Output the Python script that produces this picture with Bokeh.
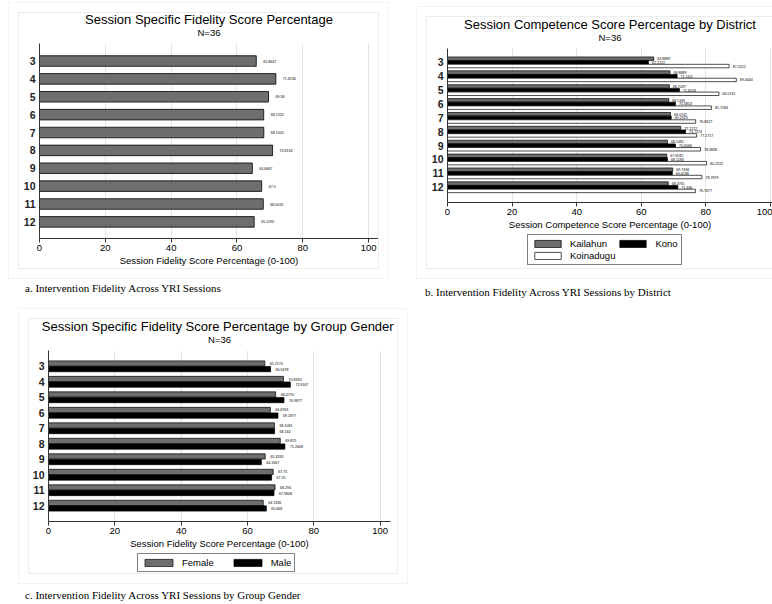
from bokeh.plotting import figure
from bokeh.models import (ColumnDataSource, Range1d, FixedTicker, Title, Legend,
                          LegendItem, Spacer, Div)
from bokeh.layouts import row, column
from bokeh.transform import dodge
from bokeh.core.properties import value
from bokeh.embed import file_html
from bokeh.resources import INLINE

# ---------------- data ----------------
sessions = [3, 4, 5, 6, 7, 8, 9, 10, 11, 12]
fidelity_all = [65.8647, 71.8136, 69.58, 68.1252, 68.1505, 70.8133, 64.6667, 67.5, 68.0016, 65.2292]

kailahun = [63.8889, 68.8889, 68.7037, 68.5185, 69.0741, 72.2222, 68.1481, 67.9032, 69.7436, 68.3761]
kono = [62.2222, 71.1111, 71.8243, 70.5853, 69.2929, 73.7374, 70.6066, 68.1183, 69.6238, 71.336]
koinadugu = [87.2222, 89.4444, 84.0741, 81.7284, 76.8627, 77.1717, 78.3838, 80.2222, 78.7879, 76.7677]

female = [65.2174, 70.8333, 68.4774, 66.8763, 68.1081, 69.875, 65.3333, 67.75, 68.294, 64.7436]
male = [66.9478, 72.9167, 70.9877, 69.1877, 68.164, 71.2608, 64.1667, 67.25, 67.9808, 65.668]

x_ticks = [0, 20, 40, 60, 80, 100]
grid_ticks = [20, 40, 60, 80, 100]
n_label = "N=36"
title_a = "Session Specific Fidelity Score Percentage"
title_b = "Session Competence Score Percentage by District"
title_c = "Session Specific Fidelity Score Percentage  by Group Gender"
xlabel_fid = "Session Fidelity Score Percentage (0-100)"
xlabel_comp = "Session Competence Score Percentage (0-100)"
cap_a = "a. Intervention Fidelity Across YRI Sessions"
cap_b = "b. Intervention Fidelity Across YRI Sessions by District"
cap_c = "c. Intervention Fidelity Across YRI Sessions by Group Gender"
districts = ["Kailahun", "Kono", "Koinadugu"]
genders = ["Female", "Male"]

FONT = "Liberation Sans"
SERIF = "Liberation Serif"
GRAY = "#6e6e6e"
AXIS = "#333333"
BOX_STYLE = {"box-shadow": "0 0 0 1px #ececec",
             "outline": "1px solid #f4f4f4",
             "outline-offset": "10px"}


def fmt(v):
    return format(v, ".6g")


def make_fig(width, height, x_end, y_bottom, y_top, mb, title, xlabel, boxed=True):
    p = figure(width=width, height=height, x_range=Range1d(0, x_end),
               y_range=Range1d(y_bottom, y_top), output_backend="svg",
               toolbar_location=None, title=None,
               min_border_left=mb[0], min_border_top=mb[1],
               min_border_right=mb[2], min_border_bottom=mb[3])
    p.add_layout(Title(text=n_label, align="center", text_font=FONT,
                       text_font_size="9.5px", text_font_style="normal",
                       text_color="black", standoff=12), "above")
    p.add_layout(Title(text=title, align="center", text_font=FONT,
                       text_font_size="13px", text_font_style="normal",
                       text_color="black", standoff=-17), "above")
    p.outline_line_color = None
    p.background_fill_color = "white"
    p.border_fill_color = "white"
    p.ygrid.visible = False
    p.xgrid.ticker = FixedTicker(ticks=grid_ticks)
    p.xgrid.grid_line_color = "#e4e4e4"
    p.xgrid.grid_line_width = 1
    p.xaxis.ticker = FixedTicker(ticks=x_ticks)
    p.xaxis.minor_tick_line_color = None
    p.xaxis.major_tick_out = 4
    p.xaxis.major_tick_in = 0
    p.xaxis.major_label_standoff = 2
    p.xaxis.major_label_text_font = FONT
    p.xaxis.major_label_text_font_size = "9.5px"
    p.xaxis.major_label_text_color = "black"
    p.xaxis.axis_label = xlabel
    p.xaxis.axis_label_text_font = FONT
    p.xaxis.axis_label_text_font_size = "9.5px"
    p.xaxis.axis_label_text_font_style = "normal"
    p.xaxis.axis_label_text_color = "black"
    p.xaxis.axis_label_standoff = 1
    p.yaxis.ticker = FixedTicker(ticks=sessions)
    p.yaxis.minor_tick_line_color = None
    p.yaxis.major_tick_out = 0
    p.yaxis.major_tick_in = 0
    p.yaxis.major_label_standoff = 4
    p.yaxis.major_label_text_font = FONT
    p.yaxis.major_label_text_font_size = "10.5px"
    p.yaxis.major_label_text_font_style = "bold"
    p.yaxis.major_label_text_color = "#222222"
    for ax in (p.xaxis, p.yaxis):
        ax.axis_line_color = AXIS
        ax.major_tick_line_color = AXIS
    if boxed:
        p.styles = BOX_STYLE
    return p


def add_labels(p, src, xcol, ycol, off):
    p.text(x=xcol, y=ycol, text=xcol + "_lab", source=src, x_offset=off,
           text_font=value(FONT), text_font_size="3.6px", text_color="black",
           text_baseline="middle", text_align="left")


def legend_fig(width, height, src, fields, labels, colors, loc, ncols, glyph_w, spacing):
    # separate strip under the chart that carries only the legend; its swatch
    # renderers are hidden so that only the legend entries are drawn
    lf = figure(width=width, height=height, x_range=Range1d(0, 1), y_range=Range1d(0, 1),
                output_backend="svg", toolbar_location=None, title=None,
                x_axis_location=None, y_axis_location=None,
                min_border_left=0, min_border_right=0, min_border_top=0, min_border_bottom=0)
    lf.grid.visible = False
    lf.outline_line_color = None
    lf.background_fill_color = "white"
    lf.border_fill_color = "white"
    items = []
    for fld, lab, col in zip(fields, labels, colors):
        r = lf.hbar(y="session", right=fld, left=0, height=0.25, source=src,
                    fill_color=col, line_color="black", line_width=0.7)
        r.visible = False
        items.append(LegendItem(label=lab, renderers=[r]))
    leg = Legend(items=items, orientation="horizontal", ncols=ncols, location=loc,
                 glyph_width=glyph_w, glyph_height=9, label_standoff=6,
                 label_height=10, label_width=20, spacing=spacing, padding=3, margin=0,
                 border_line_color="black", border_line_width=1,
                 label_text_font=FONT, label_text_font_size="9.5px",
                 label_text_color="black", background_fill_color="white",
                 click_policy="none")
    lf.add_layout(leg)
    return lf


# ---------------- panel a ----------------
src_a = ColumnDataSource(dict(session=sessions, all=fidelity_all,
                              all_lab=[fmt(v) for v in fidelity_all]))
pa = make_fig(359, 255, 103.0, 12.93, 2.02, (20, 30, 0, 28), title_a, xlabel_fid)
pa.hbar(y="session", right="all", left=0, height=0.59, source=src_a,
        fill_color=GRAY, line_color="black", line_width=0.8)
add_labels(pa, src_a, "all", "session", 7)

# ---------------- panel b ----------------
src_b = ColumnDataSource(dict(session=sessions, kai=kailahun, kon=kono, koi=koinadugu,
                              kai_lab=[fmt(v) for v in kailahun],
                              kon_lab=[fmt(v) for v in kono],
                              koi_lab=[fmt(v) for v in koinadugu]))
pb = make_fig(345, 215, 100.65, 13.1, 2.0, (20, 31, 0, 28), title_b, xlabel_comp, boxed=False)
pb.hbar(y=dodge("session", -0.265), right="kai", left=0, height=0.25, source=src_b,
        fill_color=GRAY, line_color="black", line_width=0.7)
pb.hbar(y=dodge("session", 0.0), right="kon", left=0, height=0.25, source=src_b,
        fill_color="black", line_color="black", line_width=0.7)
pb.hbar(y=dodge("session", 0.265), right="koi", left=0, height=0.25, source=src_b,
        fill_color="white", line_color="black", line_width=0.7)
add_labels(pb, src_b, "kai", dodge("session", -0.265), 3.5)
add_labels(pb, src_b, "kon", dodge("session", 0.0), 3.5)
add_labels(pb, src_b, "koi", dodge("session", 0.265), 3.5)
lb = legend_fig(345, 36, src_b, ["kai", "kon", "koi"], districts,
                [GRAY, "black", "white"], (80, 3), 2, 33, 1)
box_b = column(pb, lb, spacing=0, styles=BOX_STYLE)

# ---------------- panel c ----------------
src_c = ColumnDataSource(dict(session=sessions, fem=female, mal=male,
                              fem_lab=[fmt(v) for v in female],
                              mal_lab=[fmt(v) for v in male]))
pc = make_fig(368, 232, 103.1, 13.02, 1.98, (18, 31, 7, 28), title_c, xlabel_fid, boxed=False)
pc.hbar(y=dodge("session", -0.18), right="fem", left=0, height=0.34, source=src_c,
        fill_color=GRAY, line_color="black", line_width=0.7)
pc.hbar(y=dodge("session", 0.18), right="mal", left=0, height=0.34, source=src_c,
        fill_color="black", line_color="black", line_width=0.7)
add_labels(pc, src_c, "fem", dodge("session", -0.18), 5)
add_labels(pc, src_c, "mal", dodge("session", 0.18), 5)
lc = legend_fig(368, 22, src_c, ["fem", "mal"], genders, [GRAY, "black"],
                (89, 1), "auto", 35, 16)
box_c = column(pc, lc, spacing=0, styles=BOX_STYLE)


# ---------------- layout ----------------
def caption(text, width, height, shift):
    html = ('<div style="font-family:\'%s\';font-size:11px;line-height:%dpx;'
            'color:#000;white-space:nowrap;margin-left:%dpx">%s</div>'
            % (SERIF, height, shift, text))
    return Div(text=html, width=width, height=height, margin=0)


col_a = column(Spacer(height=13, margin=0), pa, Spacer(height=12, margin=0),
               caption(cap_a, 359, 16, 6), spacing=0)
col_b = column(Spacer(height=17, margin=0), box_b, Spacer(height=16, margin=0),
               caption(cap_b, 345, 16, -2), spacing=0)
top = row(Spacer(width=19, margin=0), col_a, Spacer(width=49, margin=0), col_b, spacing=0)

col_c = column(Spacer(height=19, margin=0), box_c, Spacer(height=14, margin=0),
               caption(cap_c, 368, 16, -4), spacing=0)
bottom = row(Spacer(width=29, margin=0), col_c, spacing=0)

layout = column(top, bottom, spacing=0)

open("out.html", "w").write(file_html(layout, INLINE))
